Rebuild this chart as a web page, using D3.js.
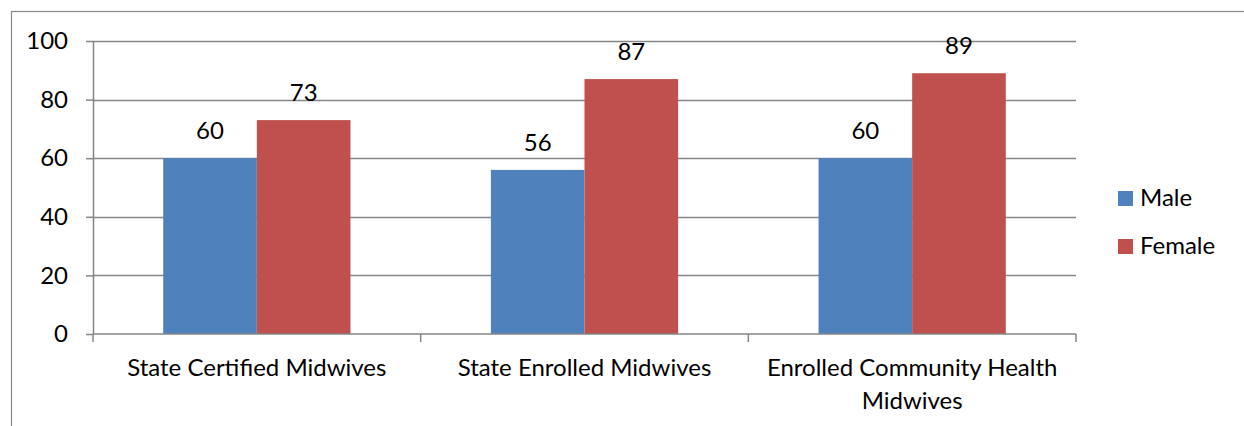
<!DOCTYPE html>
<html>
<head>
<meta charset="utf-8">
<script src="https://cdn.jsdelivr.net/npm/d3@7"></script>
<style>
  html, body { margin: 0; padding: 0; background: #fff; }
  svg text { font-family: Lato, "Open Sans", sans-serif; fill: #000; }
</style>
</head>
<body>
<svg id="chart" width="1244" height="426"></svg>
<script>
// Chart data
const categories = ["State Certified Midwives", "State Enrolled Midwives", "Enrolled Community Health Midwives"];
const seriesNames = ["Male", "Female"];
const maleValues = [60, 56, 60];
const femaleValues = [73, 87, 89];
const yTicks = [0, 20, 40, 60, 80, 100];
const colors = ["#4F81BD", "#C0504D"];

const rows = categories.map((c, i) => ({ category: c, values: [maleValues[i], femaleValues[i]] }));

const svg = d3.select("#chart");
const plot = { left: 93, right: 1076, top: 41, bottom: 334 };
const fontSize = 24;
const gridColor = "#868686";

// Outer frame
svg.append("rect")
  .attr("x", 11.5).attr("y", 11.5)
  .attr("width", 1300).attr("height", 500)
  .attr("fill", "none").attr("stroke", "#8a8a8a").attr("stroke-width", 1.2);

const x = d3.scaleBand().domain(categories).range([plot.left, plot.right]).paddingInner(0).paddingOuter(0);
const xs = d3.scaleBand().domain(seriesNames).range([0, x.bandwidth()]).paddingInner(0).paddingOuter(0.75);
const y = d3.scaleLinear().domain([0, 100]).range([plot.bottom, plot.top]);

// Horizontal gridlines
svg.append("g").selectAll("line").data(yTicks.filter(t => t > 0)).join("line")
  .attr("x1", plot.left).attr("x2", plot.right)
  .attr("y1", d => Math.round(y(d)) + 0.5).attr("y2", d => Math.round(y(d)) + 0.5)
  .attr("stroke", gridColor).attr("stroke-width", 1.5);

// Bars
const groups = svg.append("g").selectAll("g").data(rows).join("g")
  .attr("transform", d => `translate(${x(d.category)},0)`);

groups.selectAll("rect").data(d => d.values.map((v, i) => ({ key: seriesNames[i], value: v, i })))
  .join("rect")
  .attr("x", d => xs(d.key))
  .attr("width", xs.bandwidth())
  .attr("y", d => y(d.value))
  .attr("height", d => y(0) - y(d.value))
  .attr("fill", d => colors[d.i]);

// Value labels
groups.selectAll("text.val").data(d => d.values.map((v, i) => ({ key: seriesNames[i], value: v })))
  .join("text").attr("class", "val")
  .attr("x", d => xs(d.key) + xs.bandwidth() / 2)
  .attr("y", d => y(d.value) - 19)
  .attr("text-anchor", "middle")
  .style("font-size", fontSize + "px")
  .text(d => d.value);

// Y axis
const yAxis = d3.axisLeft(y).tickValues(yTicks).tickSize(7).tickPadding(18).tickSizeOuter(0);
const gy = svg.append("g").attr("transform", `translate(${plot.left},0)`).call(yAxis);
gy.select(".domain").attr("stroke", gridColor).attr("stroke-width", 1.5);
gy.selectAll(".tick line").attr("stroke", gridColor).attr("stroke-width", 1.5);
gy.selectAll(".tick text").style("font-size", fontSize + "px").attr("fill", "#000");

// X axis: baseline plus ticks at category boundaries
const boundaries = categories.map(c => x(c)).concat([x(categories[categories.length - 1]) + x.bandwidth()]);
svg.append("line")
  .attr("x1", plot.left).attr("x2", plot.right)
  .attr("y1", plot.bottom).attr("y2", plot.bottom)
  .attr("stroke", gridColor).attr("stroke-width", 1.5);
svg.append("g").selectAll("line").data(boundaries).join("line")
  .attr("x1", d => d).attr("x2", d => d)
  .attr("y1", plot.bottom).attr("y2", plot.bottom + 8)
  .attr("stroke", gridColor).attr("stroke-width", 1.5);

// Category labels (wrapped to fit the band)
const catLines = {
  "State Certified Midwives": ["State Certified Midwives"],
  "State Enrolled Midwives": ["State Enrolled Midwives"],
  "Enrolled Community Health Midwives": ["Enrolled Community Health", "Midwives"]
};
svg.append("g").selectAll("text").data(categories).join("text")
  .attr("text-anchor", "middle")
  .style("font-size", fontSize + "px")
  .attr("x", d => x(d) + x.bandwidth() / 2)
  .attr("y", 376)
  .each(function (d) {
    const t = d3.select(this);
    catLines[d].forEach((line, i) => {
      t.append("tspan").attr("x", x(d) + x.bandwidth() / 2).attr("y", 376 + i * 32.5).text(line);
    });
  });

// Legend
const legend = svg.append("g").selectAll("g").data(seriesNames).join("g")
  .attr("transform", (d, i) => `translate(1118,${191 + i * 48})`);
legend.append("rect").attr("width", 15).attr("height", 15).attr("fill", (d, i) => colors[i]);
legend.append("text").attr("x", 22).attr("y", 15).style("font-size", fontSize + "px").text(d => d);
</script>
</body>
</html>
